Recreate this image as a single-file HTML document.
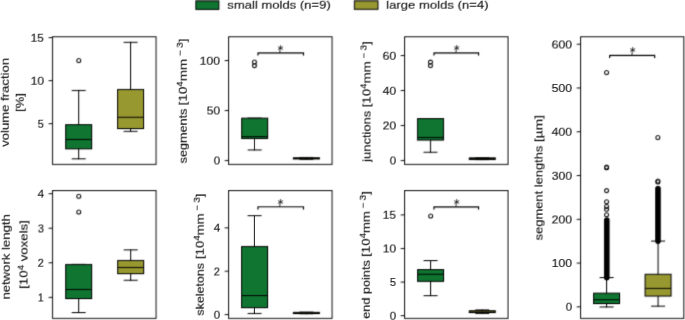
<!DOCTYPE html>
<html><head><meta charset="utf-8"><style>
html,body{margin:0;padding:0;background:#fff;width:685px;height:320px;overflow:hidden}
svg{display:block}
text{font-family:"Liberation Sans",sans-serif;font-size:11.6px;fill:#1a1a1a;stroke:#1a1a1a;stroke-width:0.15px}
</style></head><body>
<svg xmlns="http://www.w3.org/2000/svg" width="685" height="320" viewBox="0 0 685 320">
<g id="G"><rect width="685" height="320" fill="#fff"/>
<rect x="52.40" y="36.70" width="103.60" height="127.60" fill="none" stroke="#000" stroke-width="0.95"/>
<line x1="48.50" y1="123.60" x2="52.40" y2="123.60" stroke="#000" stroke-width="0.95" stroke-linecap="butt"/>
<line x1="48.50" y1="80.57" x2="52.40" y2="80.57" stroke="#000" stroke-width="0.95" stroke-linecap="butt"/>
<line x1="48.50" y1="37.55" x2="52.40" y2="37.55" stroke="#000" stroke-width="0.95" stroke-linecap="butt"/>
<line x1="78.60" y1="90.40" x2="78.60" y2="124.60" stroke="#000" stroke-width="1.0" stroke-linecap="square"/>
<line x1="78.60" y1="148.75" x2="78.60" y2="158.75" stroke="#000" stroke-width="1.0" stroke-linecap="square"/>
<line x1="72.10" y1="90.40" x2="85.10" y2="90.40" stroke="#000" stroke-width="1.0" stroke-linecap="square"/>
<line x1="72.10" y1="158.75" x2="85.10" y2="158.75" stroke="#000" stroke-width="1.0" stroke-linecap="square"/>
<rect x="65.60" y="124.60" width="26.00" height="24.15" fill="#117733" stroke="#000" stroke-width="1.0"/>
<line x1="65.60" y1="139.40" x2="91.60" y2="139.40" stroke="#000" stroke-width="1.0" stroke-linecap="butt"/>
<circle cx="78.70" cy="60.40" r="2.0" fill="none" stroke="#111" stroke-width="1.05"/>
<line x1="130.50" y1="42.25" x2="130.50" y2="89.40" stroke="#000" stroke-width="1.0" stroke-linecap="square"/>
<line x1="130.50" y1="128.50" x2="130.50" y2="131.25" stroke="#000" stroke-width="1.0" stroke-linecap="square"/>
<line x1="124.00" y1="42.25" x2="137.00" y2="42.25" stroke="#000" stroke-width="1.0" stroke-linecap="square"/>
<line x1="124.00" y1="131.25" x2="137.00" y2="131.25" stroke="#000" stroke-width="1.0" stroke-linecap="square"/>
<rect x="117.50" y="89.40" width="26.00" height="39.10" fill="#999933" stroke="#000" stroke-width="1.0"/>
<line x1="117.50" y1="117.20" x2="143.50" y2="117.20" stroke="#000" stroke-width="1.0" stroke-linecap="butt"/>
<rect x="228.50" y="36.70" width="103.50" height="127.60" fill="none" stroke="#000" stroke-width="0.95"/>
<line x1="224.60" y1="160.40" x2="228.50" y2="160.40" stroke="#000" stroke-width="0.95" stroke-linecap="butt"/>
<line x1="224.60" y1="110.44" x2="228.50" y2="110.44" stroke="#000" stroke-width="0.95" stroke-linecap="butt"/>
<line x1="224.60" y1="60.47" x2="228.50" y2="60.47" stroke="#000" stroke-width="0.95" stroke-linecap="butt"/>
<line x1="254.60" y1="138.40" x2="254.60" y2="149.90" stroke="#000" stroke-width="1.0" stroke-linecap="square"/>
<line x1="248.10" y1="118.10" x2="261.10" y2="118.10" stroke="#000" stroke-width="1.0" stroke-linecap="square"/>
<line x1="248.10" y1="149.90" x2="261.10" y2="149.90" stroke="#000" stroke-width="1.0" stroke-linecap="square"/>
<rect x="241.60" y="118.10" width="26.00" height="20.30" fill="#117733" stroke="#000" stroke-width="1.0"/>
<line x1="241.60" y1="136.60" x2="267.60" y2="136.60" stroke="#000" stroke-width="1.0" stroke-linecap="butt"/>
<circle cx="254.40" cy="61.90" r="2.0" fill="none" stroke="#111" stroke-width="1.05"/>
<circle cx="254.40" cy="65.60" r="2.0" fill="none" stroke="#111" stroke-width="1.05"/>
<line x1="306.30" y1="158.90" x2="306.30" y2="159.20" stroke="#000" stroke-width="1.0" stroke-linecap="square"/>
<line x1="299.80" y1="157.40" x2="312.80" y2="157.40" stroke="#000" stroke-width="1.0" stroke-linecap="square"/>
<line x1="299.80" y1="159.20" x2="312.80" y2="159.20" stroke="#000" stroke-width="1.0" stroke-linecap="square"/>
<rect x="293.30" y="157.70" width="26.00" height="1.20" fill="#999933" stroke="#000" stroke-width="1.0"/>
<line x1="293.30" y1="158.30" x2="319.30" y2="158.30" stroke="#000" stroke-width="1.0" stroke-linecap="butt"/>
<path d="M257.90 55.60V52.90H303.40V55.60" fill="none" stroke="#000" stroke-width="1.15"/>
<path d="M280.40 45.10V49.00M277.89 46.55L282.91 49.45M277.89 49.45L282.91 46.55" stroke="#1a1a1a" stroke-width="0.85" fill="none"/>
<path d="M280.00 49.00L279.70 52.90" stroke="#1a1a1a" stroke-width="0.9" fill="none"/>
<rect x="404.50" y="36.70" width="103.50" height="127.60" fill="none" stroke="#000" stroke-width="0.95"/>
<line x1="400.60" y1="160.40" x2="404.50" y2="160.40" stroke="#000" stroke-width="0.95" stroke-linecap="butt"/>
<line x1="400.60" y1="125.42" x2="404.50" y2="125.42" stroke="#000" stroke-width="0.95" stroke-linecap="butt"/>
<line x1="400.60" y1="90.45" x2="404.50" y2="90.45" stroke="#000" stroke-width="0.95" stroke-linecap="butt"/>
<line x1="400.60" y1="55.47" x2="404.50" y2="55.47" stroke="#000" stroke-width="0.95" stroke-linecap="butt"/>
<line x1="430.40" y1="140.00" x2="430.40" y2="152.20" stroke="#000" stroke-width="1.0" stroke-linecap="square"/>
<line x1="423.90" y1="118.50" x2="436.90" y2="118.50" stroke="#000" stroke-width="1.0" stroke-linecap="square"/>
<line x1="423.90" y1="152.20" x2="436.90" y2="152.20" stroke="#000" stroke-width="1.0" stroke-linecap="square"/>
<rect x="417.40" y="118.50" width="26.00" height="21.50" fill="#117733" stroke="#000" stroke-width="1.0"/>
<line x1="417.40" y1="137.40" x2="443.40" y2="137.40" stroke="#000" stroke-width="1.0" stroke-linecap="butt"/>
<circle cx="430.40" cy="62.10" r="2.0" fill="none" stroke="#111" stroke-width="1.05"/>
<circle cx="430.40" cy="65.40" r="2.0" fill="none" stroke="#111" stroke-width="1.05"/>
<line x1="482.20" y1="159.40" x2="482.20" y2="159.60" stroke="#000" stroke-width="1.0" stroke-linecap="square"/>
<line x1="475.70" y1="157.60" x2="488.70" y2="157.60" stroke="#000" stroke-width="1.0" stroke-linecap="square"/>
<line x1="475.70" y1="159.60" x2="488.70" y2="159.60" stroke="#000" stroke-width="1.0" stroke-linecap="square"/>
<rect x="469.20" y="157.80" width="26.00" height="1.60" fill="#999933" stroke="#000" stroke-width="1.0"/>
<line x1="469.20" y1="158.60" x2="495.20" y2="158.60" stroke="#000" stroke-width="1.0" stroke-linecap="butt"/>
<path d="M433.90 55.60V52.90H478.50V55.60" fill="none" stroke="#000" stroke-width="1.15"/>
<path d="M456.60 45.00V48.90M454.09 46.45L459.11 49.35M454.09 49.35L459.11 46.45" stroke="#1a1a1a" stroke-width="0.85" fill="none"/>
<path d="M456.20 48.90L455.90 52.90" stroke="#1a1a1a" stroke-width="0.9" fill="none"/>
<rect x="580.50" y="36.70" width="103.25" height="281.60" fill="none" stroke="#000" stroke-width="0.95"/>
<line x1="576.60" y1="306.80" x2="580.50" y2="306.80" stroke="#000" stroke-width="0.95" stroke-linecap="butt"/>
<line x1="576.60" y1="263.02" x2="580.50" y2="263.02" stroke="#000" stroke-width="0.95" stroke-linecap="butt"/>
<line x1="576.60" y1="219.25" x2="580.50" y2="219.25" stroke="#000" stroke-width="0.95" stroke-linecap="butt"/>
<line x1="576.60" y1="175.47" x2="580.50" y2="175.47" stroke="#000" stroke-width="0.95" stroke-linecap="butt"/>
<line x1="576.60" y1="131.70" x2="580.50" y2="131.70" stroke="#000" stroke-width="0.95" stroke-linecap="butt"/>
<line x1="576.60" y1="87.92" x2="580.50" y2="87.92" stroke="#000" stroke-width="0.95" stroke-linecap="butt"/>
<line x1="576.60" y1="44.15" x2="580.50" y2="44.15" stroke="#000" stroke-width="0.95" stroke-linecap="butt"/>
<line x1="606.70" y1="220.00" x2="606.70" y2="277.40" stroke="#000" stroke-width="5.6" stroke-linecap="round"/>
<line x1="657.90" y1="188.50" x2="657.90" y2="240.90" stroke="#000" stroke-width="5.6" stroke-linecap="round"/>
<line x1="606.50" y1="277.50" x2="606.50" y2="293.10" stroke="#000" stroke-width="1.0" stroke-linecap="square"/>
<line x1="606.50" y1="303.50" x2="606.50" y2="306.90" stroke="#000" stroke-width="1.0" stroke-linecap="square"/>
<line x1="600.00" y1="277.50" x2="613.00" y2="277.50" stroke="#000" stroke-width="1.0" stroke-linecap="square"/>
<line x1="600.00" y1="306.90" x2="613.00" y2="306.90" stroke="#000" stroke-width="1.0" stroke-linecap="square"/>
<rect x="593.50" y="293.10" width="26.00" height="10.40" fill="#117733" stroke="#000" stroke-width="1.0"/>
<line x1="593.50" y1="299.70" x2="619.50" y2="299.70" stroke="#000" stroke-width="1.0" stroke-linecap="butt"/>
<circle cx="606.50" cy="72.50" r="2.0" fill="none" stroke="#111" stroke-width="1.05"/>
<circle cx="606.50" cy="167.10" r="2.0" fill="none" stroke="#111" stroke-width="1.05"/>
<circle cx="606.50" cy="167.70" r="2.0" fill="none" stroke="#111" stroke-width="1.05"/>
<circle cx="606.50" cy="190.60" r="2.0" fill="none" stroke="#111" stroke-width="1.05"/>
<circle cx="606.50" cy="201.80" r="2.0" fill="none" stroke="#111" stroke-width="1.05"/>
<circle cx="606.50" cy="206.50" r="2.0" fill="none" stroke="#111" stroke-width="1.05"/>
<circle cx="606.50" cy="209.30" r="2.0" fill="none" stroke="#111" stroke-width="1.05"/>
<circle cx="606.50" cy="214.75" r="2.0" fill="none" stroke="#111" stroke-width="1.05"/>
<line x1="658.00" y1="241.00" x2="658.00" y2="274.20" stroke="#000" stroke-width="1.0" stroke-linecap="square"/>
<line x1="658.00" y1="296.00" x2="658.00" y2="306.10" stroke="#000" stroke-width="1.0" stroke-linecap="square"/>
<line x1="651.50" y1="241.00" x2="664.50" y2="241.00" stroke="#000" stroke-width="1.0" stroke-linecap="square"/>
<line x1="651.50" y1="306.10" x2="664.50" y2="306.10" stroke="#000" stroke-width="1.0" stroke-linecap="square"/>
<rect x="645.00" y="274.20" width="26.00" height="21.80" fill="#999933" stroke="#000" stroke-width="1.0"/>
<line x1="645.00" y1="288.30" x2="671.00" y2="288.30" stroke="#000" stroke-width="1.0" stroke-linecap="butt"/>
<circle cx="657.80" cy="137.50" r="2.0" fill="none" stroke="#111" stroke-width="1.05"/>
<circle cx="657.80" cy="180.90" r="2.0" fill="none" stroke="#111" stroke-width="1.05"/>
<circle cx="657.80" cy="181.90" r="2.0" fill="none" stroke="#111" stroke-width="1.05"/>
<path d="M609.60 58.10V55.40H654.60V58.10" fill="none" stroke="#000" stroke-width="1.15"/>
<path d="M632.60 47.00V50.90M630.09 48.45L635.11 51.35M630.09 51.35L635.11 48.45" stroke="#1a1a1a" stroke-width="0.85" fill="none"/>
<path d="M632.20 50.90L631.90 55.40" stroke="#1a1a1a" stroke-width="0.9" fill="none"/>
<rect x="52.40" y="190.50" width="103.60" height="127.80" fill="none" stroke="#000" stroke-width="0.95"/>
<line x1="48.50" y1="297.30" x2="52.40" y2="297.30" stroke="#000" stroke-width="0.95" stroke-linecap="butt"/>
<line x1="48.50" y1="262.73" x2="52.40" y2="262.73" stroke="#000" stroke-width="0.95" stroke-linecap="butt"/>
<line x1="48.50" y1="228.17" x2="52.40" y2="228.17" stroke="#000" stroke-width="0.95" stroke-linecap="butt"/>
<line x1="48.50" y1="193.60" x2="52.40" y2="193.60" stroke="#000" stroke-width="0.95" stroke-linecap="butt"/>
<line x1="78.60" y1="298.50" x2="78.60" y2="312.50" stroke="#000" stroke-width="1.0" stroke-linecap="square"/>
<line x1="72.10" y1="264.40" x2="85.10" y2="264.40" stroke="#000" stroke-width="1.0" stroke-linecap="square"/>
<line x1="72.10" y1="312.50" x2="85.10" y2="312.50" stroke="#000" stroke-width="1.0" stroke-linecap="square"/>
<rect x="65.60" y="264.40" width="26.00" height="34.10" fill="#117733" stroke="#000" stroke-width="1.0"/>
<line x1="65.60" y1="289.40" x2="91.60" y2="289.40" stroke="#000" stroke-width="1.0" stroke-linecap="butt"/>
<circle cx="78.70" cy="196.25" r="2.0" fill="none" stroke="#111" stroke-width="1.05"/>
<circle cx="78.70" cy="211.90" r="2.0" fill="none" stroke="#111" stroke-width="1.05"/>
<line x1="130.60" y1="249.80" x2="130.60" y2="260.40" stroke="#000" stroke-width="1.0" stroke-linecap="square"/>
<line x1="130.60" y1="273.60" x2="130.60" y2="280.20" stroke="#000" stroke-width="1.0" stroke-linecap="square"/>
<line x1="124.10" y1="249.80" x2="137.10" y2="249.80" stroke="#000" stroke-width="1.0" stroke-linecap="square"/>
<line x1="124.10" y1="280.20" x2="137.10" y2="280.20" stroke="#000" stroke-width="1.0" stroke-linecap="square"/>
<rect x="117.60" y="260.40" width="26.00" height="13.20" fill="#999933" stroke="#000" stroke-width="1.0"/>
<line x1="117.60" y1="267.40" x2="143.60" y2="267.40" stroke="#000" stroke-width="1.0" stroke-linecap="butt"/>
<rect x="228.50" y="190.50" width="103.50" height="127.80" fill="none" stroke="#000" stroke-width="0.95"/>
<line x1="224.60" y1="314.47" x2="228.50" y2="314.47" stroke="#000" stroke-width="0.95" stroke-linecap="butt"/>
<line x1="224.60" y1="271.13" x2="228.50" y2="271.13" stroke="#000" stroke-width="0.95" stroke-linecap="butt"/>
<line x1="224.60" y1="227.80" x2="228.50" y2="227.80" stroke="#000" stroke-width="0.95" stroke-linecap="butt"/>
<line x1="254.50" y1="215.60" x2="254.50" y2="246.40" stroke="#000" stroke-width="1.0" stroke-linecap="square"/>
<line x1="254.50" y1="307.60" x2="254.50" y2="313.40" stroke="#000" stroke-width="1.0" stroke-linecap="square"/>
<line x1="248.00" y1="215.60" x2="261.00" y2="215.60" stroke="#000" stroke-width="1.0" stroke-linecap="square"/>
<line x1="248.00" y1="313.40" x2="261.00" y2="313.40" stroke="#000" stroke-width="1.0" stroke-linecap="square"/>
<rect x="241.50" y="246.40" width="26.00" height="61.20" fill="#117733" stroke="#000" stroke-width="1.0"/>
<line x1="241.50" y1="295.50" x2="267.50" y2="295.50" stroke="#000" stroke-width="1.0" stroke-linecap="butt"/>
<line x1="306.30" y1="313.50" x2="306.30" y2="313.70" stroke="#000" stroke-width="1.0" stroke-linecap="square"/>
<line x1="299.80" y1="312.10" x2="312.80" y2="312.10" stroke="#000" stroke-width="1.0" stroke-linecap="square"/>
<line x1="299.80" y1="313.70" x2="312.80" y2="313.70" stroke="#000" stroke-width="1.0" stroke-linecap="square"/>
<rect x="293.30" y="312.30" width="26.00" height="1.20" fill="#999933" stroke="#000" stroke-width="1.0"/>
<line x1="293.30" y1="312.90" x2="319.30" y2="312.90" stroke="#000" stroke-width="1.0" stroke-linecap="butt"/>
<path d="M257.90 209.40V206.70H303.40V209.40" fill="none" stroke="#000" stroke-width="1.15"/>
<path d="M280.40 199.00V202.90M277.89 200.45L282.91 203.35M277.89 203.35L282.91 200.45" stroke="#1a1a1a" stroke-width="0.85" fill="none"/>
<path d="M280.00 202.90L279.70 206.70" stroke="#1a1a1a" stroke-width="0.9" fill="none"/>
<rect x="404.50" y="190.50" width="103.50" height="127.80" fill="none" stroke="#000" stroke-width="0.95"/>
<line x1="400.60" y1="315.60" x2="404.50" y2="315.60" stroke="#000" stroke-width="0.95" stroke-linecap="butt"/>
<line x1="400.60" y1="282.02" x2="404.50" y2="282.02" stroke="#000" stroke-width="0.95" stroke-linecap="butt"/>
<line x1="400.60" y1="248.43" x2="404.50" y2="248.43" stroke="#000" stroke-width="0.95" stroke-linecap="butt"/>
<line x1="400.60" y1="214.85" x2="404.50" y2="214.85" stroke="#000" stroke-width="0.95" stroke-linecap="butt"/>
<line x1="430.50" y1="260.50" x2="430.50" y2="269.50" stroke="#000" stroke-width="1.0" stroke-linecap="square"/>
<line x1="430.50" y1="281.25" x2="430.50" y2="295.60" stroke="#000" stroke-width="1.0" stroke-linecap="square"/>
<line x1="424.00" y1="260.50" x2="437.00" y2="260.50" stroke="#000" stroke-width="1.0" stroke-linecap="square"/>
<line x1="424.00" y1="295.60" x2="437.00" y2="295.60" stroke="#000" stroke-width="1.0" stroke-linecap="square"/>
<rect x="417.50" y="269.50" width="26.00" height="11.75" fill="#117733" stroke="#000" stroke-width="1.0"/>
<line x1="417.50" y1="274.20" x2="443.50" y2="274.20" stroke="#000" stroke-width="1.0" stroke-linecap="butt"/>
<circle cx="430.60" cy="215.90" r="2.0" fill="none" stroke="#111" stroke-width="1.05"/>
<line x1="482.20" y1="309.90" x2="482.20" y2="310.80" stroke="#000" stroke-width="1.0" stroke-linecap="square"/>
<line x1="482.20" y1="312.50" x2="482.20" y2="313.30" stroke="#000" stroke-width="1.0" stroke-linecap="square"/>
<line x1="475.70" y1="309.90" x2="488.70" y2="309.90" stroke="#000" stroke-width="1.0" stroke-linecap="square"/>
<line x1="475.70" y1="313.30" x2="488.70" y2="313.30" stroke="#000" stroke-width="1.0" stroke-linecap="square"/>
<rect x="469.20" y="310.80" width="26.00" height="1.70" fill="#999933" stroke="#000" stroke-width="1.0"/>
<line x1="469.20" y1="310.90" x2="495.20" y2="310.90" stroke="#000" stroke-width="1.0" stroke-linecap="butt"/>
<path d="M433.90 209.50V206.80H478.50V209.50" fill="none" stroke="#000" stroke-width="1.15"/>
<path d="M456.60 199.00V202.90M454.09 200.45L459.11 203.35M454.09 203.35L459.11 200.45" stroke="#1a1a1a" stroke-width="0.85" fill="none"/>
<path d="M456.20 202.90L455.90 206.80" stroke="#1a1a1a" stroke-width="0.9" fill="none"/>
<rect x="195.8" y="0.9" width="23.0" height="8.4" fill="#117733" stroke="#000" stroke-width="1.0"/>
<rect x="354.3" y="0.9" width="23.6" height="8.3" fill="#999933" stroke="#000" stroke-width="1.0"/>
<g opacity="0.999">
<text transform="translate(37.62,127.65) scale(0.9519,1)">5</text>
<text transform="translate(30.48,84.62) scale(1.0467,1)">10</text>
<text transform="translate(30.50,41.60) scale(1.0266,1)">15</text>
<text transform="translate(213.70,164.45) scale(0.9944,1)">0</text>
<text transform="translate(206.61,114.48) scale(1.0442,1)">50</text>
<text transform="translate(199.50,64.52) scale(1.0610,1)">100</text>
<text transform="translate(389.70,164.45) scale(0.9944,1)">0</text>
<text transform="translate(382.56,129.47) scale(1.0479,1)">20</text>
<text transform="translate(382.56,94.50) scale(1.0486,1)">40</text>
<text transform="translate(382.53,59.52) scale(1.0510,1)">60</text>
<text transform="translate(565.70,310.85) scale(0.9944,1)">0</text>
<text transform="translate(551.50,267.07) scale(1.0610,1)">100</text>
<text transform="translate(551.50,223.30) scale(1.0614,1)">200</text>
<text transform="translate(551.66,179.53) scale(1.0526,1)">300</text>
<text transform="translate(551.49,135.75) scale(1.0617,1)">400</text>
<text transform="translate(551.54,91.97) scale(1.0591,1)">500</text>
<text transform="translate(551.46,48.20) scale(1.0635,1)">600</text>
<text transform="translate(37.63,301.35) scale(0.9402,1)">1</text>
<text transform="translate(37.57,266.78) scale(0.9559,1)">2</text>
<text transform="translate(37.73,232.22) scale(0.9472,1)">3</text>
<text transform="translate(37.53,197.65) scale(1.0037,1)">4</text>
<text transform="translate(213.70,318.52) scale(0.9944,1)">0</text>
<text transform="translate(213.67,275.19) scale(0.9559,1)">2</text>
<text transform="translate(213.63,231.85) scale(1.0037,1)">4</text>
<text transform="translate(389.70,319.65) scale(0.9944,1)">0</text>
<text transform="translate(389.72,286.07) scale(0.9519,1)">5</text>
<text transform="translate(382.58,252.48) scale(1.0467,1)">10</text>
<text transform="translate(382.60,218.90) scale(1.0266,1)">15</text>
<text transform="translate(227.18,8.70) scale(1.1268,1)">small molds (n=9)</text>
<text transform="translate(386.05,8.70) scale(1.1310,1)">large molds (n=4)</text>
<text transform="translate(8.90,146.70) rotate(-90) scale(1.1321,1)">volume fraction</text>
<text transform="translate(23.70,111.63) rotate(-90) scale(1.1082,1)">[%]</text>
<text transform="translate(186.70,163.21) rotate(-90) scale(1.0889,1)">segments</text>
<text transform="translate(186.70,105.27) rotate(-90) scale(1.1573,1)">[10<tspan dy="-3.9" font-size="8.6">4</tspan><tspan dy="3.9">mm</tspan><tspan dx="2.2" dy="-4.0" font-size="8.6">−</tspan><tspan dx="2.3" font-size="8.6">3</tspan><tspan dy="4.0">]</tspan></text>
<text transform="translate(370.20,161.58) rotate(-90) scale(1.1126,1)">junctions</text>
<text transform="translate(370.20,107.16) rotate(-90) scale(1.1431,1)">[10<tspan dy="-3.9" font-size="8.6">4</tspan><tspan dy="3.9">mm</tspan><tspan dx="2.2" dy="-4.0" font-size="8.6">−</tspan><tspan dx="2.3" font-size="8.6">3</tspan><tspan dy="4.0">]</tspan></text>
<text transform="translate(203.60,315.50) rotate(-90) scale(1.0736,1)">skeletons</text>
<text transform="translate(203.60,258.95) rotate(-90) scale(1.1351,1)">[10<tspan dy="-3.9" font-size="8.6">4</tspan><tspan dy="3.9">mm</tspan><tspan dx="2.2" dy="-4.0" font-size="8.6">−</tspan><tspan dx="2.3" font-size="8.6">3</tspan><tspan dy="4.0">]</tspan></text>
<text transform="translate(369.60,318.65) rotate(-90) scale(1.0945,1)">end points</text>
<text transform="translate(369.60,256.65) rotate(-90) scale(1.1342,1)">[10<tspan dy="-3.9" font-size="8.6">4</tspan><tspan dy="3.9">mm</tspan><tspan dx="2.2" dy="-4.0" font-size="8.6">−</tspan><tspan dx="2.3" font-size="8.6">3</tspan><tspan dy="4.0">]</tspan></text>
<text transform="translate(542.40,240.22) rotate(-90) scale(1.1129,1)">segment lengths</text>
<text transform="translate(542.40,142.10) rotate(-90) scale(1.1953,1)">[µm]</text>
<text transform="translate(9.80,299.45) rotate(-90) scale(1.1324,1)">network length</text>
<text transform="translate(27.40,288.65) rotate(-90) scale(1.1387,1)">[10<tspan dy="-3.9" font-size="8.6">4</tspan><tspan dy="3.9"> voxels]</tspan></text>
</g>
</g>
<use href="#G" transform="translate(0.42,0.42)" opacity="0.5"/>
<use href="#G" transform="translate(-0.42,0.42)" opacity="0.3333"/>
<use href="#G" transform="translate(0.42,-0.42)" opacity="0.25"/>
</svg>
</body></html>
